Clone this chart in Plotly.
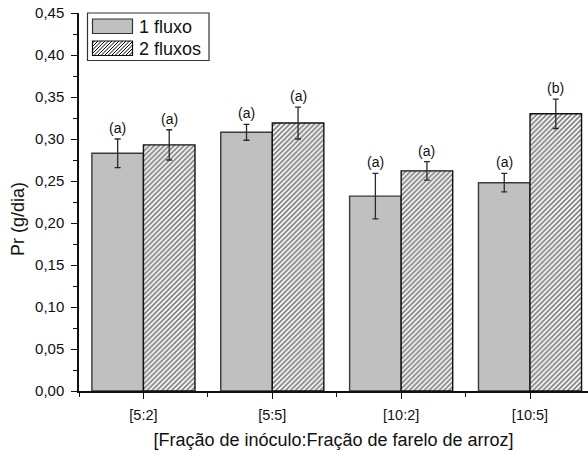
import plotly.graph_objects as go

# ---- data ----
categories = ["[5:2]", "[5:5]", "[10:2]", "[10:5]"]
flux1 = [0.283, 0.308, 0.232, 0.248]
flux1_err = [0.017, 0.0095, 0.027, 0.011]
flux2 = [0.293, 0.319, 0.262, 0.330]
flux2_err = [0.018, 0.019, 0.011, 0.0175]
letters1 = ["(a)", "(a)", "(a)", "(a)"]
letters2 = ["(a)", "(a)", "(a)", "(b)"]
series_names = ["1 fluxo", "2 fluxos"]
y_ticks = [0.00, 0.05, 0.10, 0.15, 0.20, 0.25, 0.30, 0.35, 0.40, 0.45]

FONT = "Liberation Sans, Arial, sans-serif"
GRAY = "#c0c0c0"
xpos = list(range(len(categories)))
BAR_W = 0.4

fig = go.Figure()
fig.add_trace(go.Bar(
    x=xpos, y=flux1, name=series_names[0], width=BAR_W, offset=-BAR_W,
    marker=dict(color=GRAY, line=dict(color="#3a3a3a", width=1.4)),
    error_y=dict(type="data", array=flux1_err, visible=True,
                 color="#2a2a2a", thickness=1.3, width=3),
    showlegend=False,
))
fig.add_trace(go.Bar(
    x=xpos, y=flux2, name=series_names[1], width=BAR_W, offset=0,
    marker=dict(color="white", line=dict(color="#111111", width=1.4),
                pattern=dict(shape="/", fgcolor="#000000", bgcolor="white",
                             size=3.5, solidity=0.5)),
    error_y=dict(type="data", array=flux2_err, visible=True,
                 color="#2a2a2a", thickness=1.3, width=3),
    showlegend=False,
))

annotations = []
for i in xpos:
    annotations.append(dict(x=i - BAR_W / 2, y=flux1[i] + flux1_err[i], text=letters1[i],
                            xref="x", yref="y", showarrow=False, yanchor="bottom",
                            yshift=1, font=dict(family=FONT, size=14, color="#111")))
    annotations.append(dict(x=i + BAR_W / 2, y=flux2[i] + flux2_err[i], text=letters2[i],
                            xref="x", yref="y", showarrow=False, yanchor="bottom",
                            yshift=1, font=dict(family=FONT, size=14, color="#111")))

# y-axis title (placed slightly below the axis centre, as in the reference)
annotations.append(dict(x=0, y=0.455, xref="paper", yref="paper", xshift=-61,
                        xanchor="center", yanchor="middle", textangle=-90,
                        text="Pr (g/dia)", showarrow=False,
                        font=dict(family=FONT, size=18, color="#111")))

# ---- manual legend (pixel-anchored to the plot's top-left corner) ----
def rect_path(x0, y0, x1, y1):
    return f"M{x0},{y0}L{x1},{y0}L{x1},{y1}L{x0},{y1}Z"

def hatch_path(xa, xb, ya, yb, step=3.5):
    segs = []
    c = ya - xb
    while c <= yb - xa:
        lo = max(xa, ya - c)
        hi = min(xb, yb - c)
        if hi - lo > 0.3:
            segs.append(f"M{lo:.2f},{lo + c:.2f}L{hi:.2f},{hi + c:.2f}")
        c += step
    return "".join(segs)

pix = dict(xref="paper", yref="paper", xsizemode="pixel", ysizemode="pixel",
           xanchor=0, yanchor=1, type="path")
shapes = [
    dict(path=rect_path(8.5, 0, 130, -47.5), fillcolor="white",
         line=dict(color="#333", width=1.2), **pix),
    dict(path=rect_path(13.5, -6, 53.5, -20.5), fillcolor=GRAY,
         line=dict(color="#333", width=1.2), **pix),
    dict(path=rect_path(13.5, -28, 53.5, -42.5), fillcolor="white",
         line=dict(color="#111", width=1.2), **pix),
    dict(path=hatch_path(13.5, 53.5, -42.5, -28), fillcolor="rgba(0,0,0,0)",
         line=dict(color="#000", width=1.0), **pix),
]
for k, (name, yc) in enumerate(zip(series_names, [-13.5, -35.5])):
    annotations.append(dict(x=0, y=1, xref="paper", yref="paper", xanchor="left",
                            yanchor="middle", xshift=58, yshift=yc, text=name,
                            showarrow=False, font=dict(family=FONT, size=18, color="#111")))

fig.update_layout(
    width=588, height=451,
    margin=dict(l=79, r=0, t=13, b=60),
    paper_bgcolor="white", plot_bgcolor="white",
    separators=",.",
    font=dict(family=FONT, color="#111"),
    bargap=0.2,
    shapes=shapes,
    annotations=annotations,
)
fig.update_xaxes(
    range=[-0.5, 3.45], tickmode="array", tickvals=xpos, ticktext=categories,
    showline=True, linecolor="#111", linewidth=1.5, showgrid=False, zeroline=False,
    ticks="outside", ticklen=6, tickwidth=1.3, tickcolor="#111",
    tickfont=dict(family=FONT, size=14.5, color="#111"), ticklabelstandoff=4,
    ticklabeloverflow="allow",
    minor=dict(tick0=0.5, dtick=1, ticks="outside", ticklen=4, tickwidth=1.2,
               tickcolor="#111", showgrid=False),
    title=dict(text="[Fração de inóculo:Fração de farelo de arroz]",
               font=dict(family=FONT, size=18, color="#111"), standoff=11),
    automargin=False,
)
fig.update_yaxes(
    range=[0, 0.45], tickmode="array", tickvals=y_ticks, tickformat=".2f",
    showline=True, linecolor="#111", linewidth=1.5, showgrid=False, zeroline=False,
    ticks="outside", ticklen=6, tickwidth=1.3, tickcolor="#111",
    tickfont=dict(family=FONT, size=15, color="#111"), ticklabelstandoff=4,
    ticklabeloverflow="allow",
    minor=dict(tick0=0.025, dtick=0.05, ticks="outside", ticklen=4, tickwidth=1.2,
               tickcolor="#111", showgrid=False),
    automargin=False,
)

# remove the page's default 8px body margin so the figure fills the window exactly
fig.write_html("out.html", config={"displayModeBar": False},
               post_script="document.body.style.margin='0';document.body.style.overflow='hidden';")
